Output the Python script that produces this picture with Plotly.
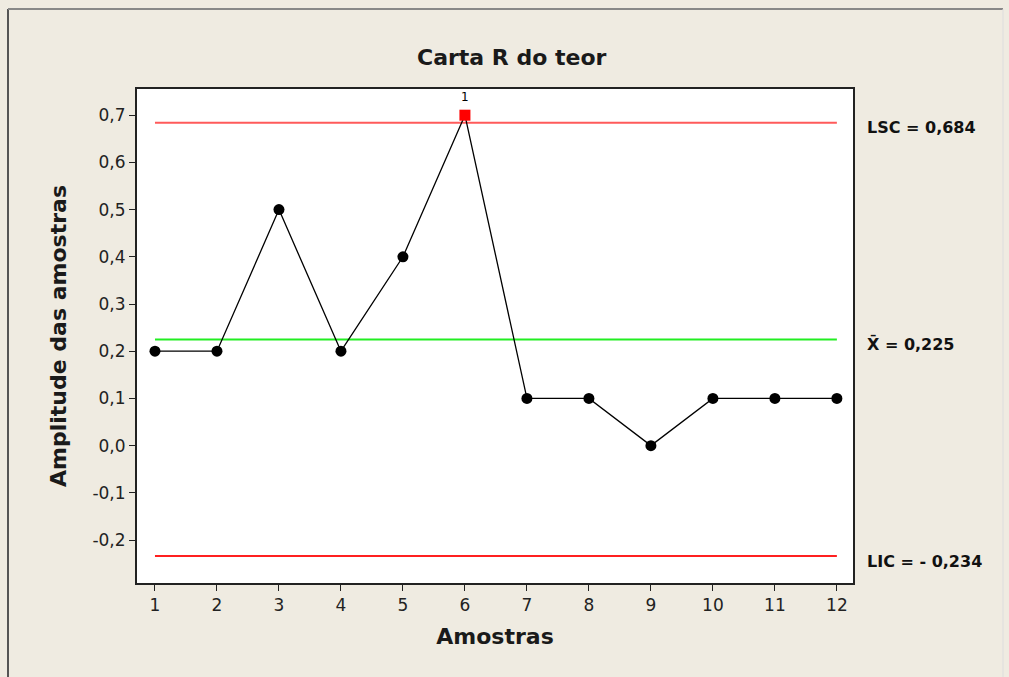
import plotly.graph_objects as go

samples = [1, 2, 3, 4, 5, 6, 7, 8, 9, 10, 11, 12]
ranges = [0.2, 0.2, 0.5, 0.2, 0.4, 0.7, 0.1, 0.1, 0.0, 0.1, 0.1, 0.1]
lsc = 0.684
center = 0.225
lic = -0.234
out_idx = [5]
y_ticks = [-0.2, -0.1, 0.0, 0.1, 0.2, 0.3, 0.4, 0.5, 0.6, 0.7]
y_labels = ["-0,2", "-0,1", "0,0", "0,1", "0,2", "0,3", "0,4", "0,5", "0,6", "0,7"]

W, H = 1009, 677
L, R, T, B = 137, 156, 89, 94
font = "DejaVu Sans, Verdana, sans-serif"
PW, PH = W - L - R, H - T - B


def px(x):
    return (x - L) / PW


def py(y):
    return (H - y - B) / PH


fig = go.Figure()
fig.add_trace(go.Scatter(x=[samples[0], samples[-1]], y=[lsc, lsc], mode="lines",
                         line=dict(color="#FF5A5A", width=2), hoverinfo="skip"))
fig.add_trace(go.Scatter(x=[samples[0], samples[-1]], y=[center, center], mode="lines",
                         line=dict(color="#22EE22", width=2), hoverinfo="skip"))
fig.add_trace(go.Scatter(x=[samples[0], samples[-1]], y=[lic, lic], mode="lines",
                         line=dict(color="#FF2020", width=2), hoverinfo="skip"))
colors = ["red" if i in out_idx else "black" for i in range(len(samples))]
symbols = ["square" if i in out_idx else "circle" for i in range(len(samples))]
fig.add_trace(go.Scatter(x=samples, y=ranges, mode="lines+markers",
                         line=dict(color="black", width=1.3),
                         marker=dict(color=colors, symbol=symbols, size=11, line=dict(width=0))))
for i in out_idx:
    fig.add_annotation(x=samples[i], y=ranges[i], text="1", showarrow=False,
                       yshift=18, font=dict(size=12, color="black", family=font))

for val, txt in [(lsc, "LSC = 0,684"), (center, "X\u0304 = 0,225"), (lic, "LIC = - 0,234")]:
    fig.add_annotation(xref="paper", x=px(865), y=val, text=txt, showarrow=False,
                       xanchor="left", yshift=-5,
                       font=dict(size=16, color="#111", family=font, weight="bold"))

fig.add_annotation(xref="paper", yref="paper", x=px(512), y=py(57),
                   text="Carta R do teor", showarrow=False, xanchor="center", yanchor="middle",
                   font=dict(size=22, color="#1a1a1a", family=font, weight="bold"))

# outer frame lines
fig.add_shape(type="line", xref="paper", yref="paper", x0=px(8), x1=px(8), y0=py(677), y1=py(9),
              line=dict(color="#555", width=2))
fig.add_shape(type="line", xref="paper", yref="paper", x0=px(8), x1=px(1003), y0=py(9), y1=py(9),
              line=dict(color="#888", width=2))
fig.add_shape(type="line", xref="paper", yref="paper", x0=px(1003), x1=px(1003), y0=py(677), y1=py(9),
              line=dict(color="#ddd", width=1))

fig.update_layout(
    width=W, height=H, showlegend=False,
    paper_bgcolor="#EFEBE1", plot_bgcolor="white",
    margin=dict(l=L, r=R, t=T, b=B),
    font=dict(family=font, color="#222"),
    xaxis=dict(range=[0.71, 12.26], tickvals=samples, ticks="outside", ticklen=6, tickcolor="#222",
               showgrid=False, zeroline=False, showline=True, linecolor="#222", linewidth=2, mirror=True,
               tickfont=dict(size=17),
               title=dict(text="Amostras", font=dict(size=22, weight="bold", color="#1a1a1a"), standoff=14)),
    yaxis=dict(range=[-0.291, 0.7555], tickvals=y_ticks, ticktext=y_labels, ticks="outside", ticklen=6,
               tickcolor="#222", showgrid=False, zeroline=False, showline=True, linecolor="#222", linewidth=2,
               mirror=True, tickfont=dict(size=17),
               title=dict(text="Amplitude das amostras", font=dict(size=22, weight="bold", color="#1a1a1a"),
                          standoff=20)),
)
fig.write_html("out.html", config={"displayModeBar": False},
               post_script="document.body.style.margin='0';")
